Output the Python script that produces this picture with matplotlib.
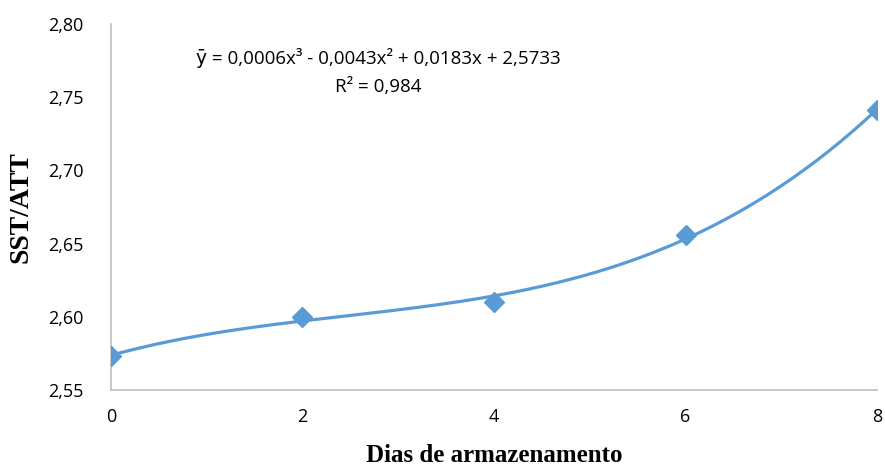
import numpy as np
import matplotlib
matplotlib.use("Agg")
import matplotlib.pyplot as plt

# ----- data -----
dias = [0, 2, 4, 6, 8]
sst_att = [2.573, 2.600, 2.610, 2.656, 2.741]
x_ticks = [0, 2, 4, 6, 8]
y_ticks = [2.55, 2.60, 2.65, 2.70, 2.75, 2.80]
y_labels = ["2,55", "2,60", "2,65", "2,70", "2,75", "2,80"]
equacao = "ȳ = 0,0006x³ - 0,0043x² + 0,0183x + 2,5733"
r2_text = "R² = 0,984"

blue = "#5B9BD5"
grey = "#BFBFBF"
tick_font = ["Open Sans", "DejaVu Sans"]

fig = plt.figure(figsize=(8.85, 4.70), dpi=100)
ax = fig.add_axes([0.1254, 0.1702, 0.8656, 0.7788])

# cubic trendline fitted to the points
coef = np.polyfit(dias, sst_att, 3)
xs = np.linspace(0, 8, 200)
ax.plot(xs, np.polyval(coef, xs), color=blue, lw=2.3, zorder=2)
ax.plot(dias, sst_att, linestyle="none", marker="D", ms=10, color=blue, zorder=3)

ax.set_xlim(0, 8)
ax.set_ylim(2.55, 2.80)
ax.set_xticks(x_ticks)
ax.set_xticklabels([str(v) for v in x_ticks], fontfamily=tick_font, fontsize=13)
ax.set_yticks(y_ticks)
ax.set_yticklabels(y_labels, fontfamily=tick_font, fontsize=13)
ax.tick_params(length=0, colors="#000000")
ax.tick_params(axis="x", pad=13)
ax.tick_params(axis="y", pad=20)

for s in ["top", "right"]:
    ax.spines[s].set_visible(False)
for s in ["left", "bottom"]:
    ax.spines[s].set_color(grey)
    ax.spines[s].set_linewidth(1.2)

ax.set_xlabel("Dias de armazenamento", fontfamily="Liberation Serif",
              fontweight="bold", fontsize=18, labelpad=13)
ax.set_ylabel("SST/ATT", fontfamily="Liberation Serif",
              fontweight="bold", fontsize=20, labelpad=10)

ax.text(2.79, 2.777, equacao, ha="center", va="center",
        fontfamily=tick_font, fontsize=13.5)
ax.text(2.79, 2.757, r2_text, ha="center", va="center",
        fontfamily=tick_font, fontsize=13.5)

fig.savefig("out.png", dpi=100)
